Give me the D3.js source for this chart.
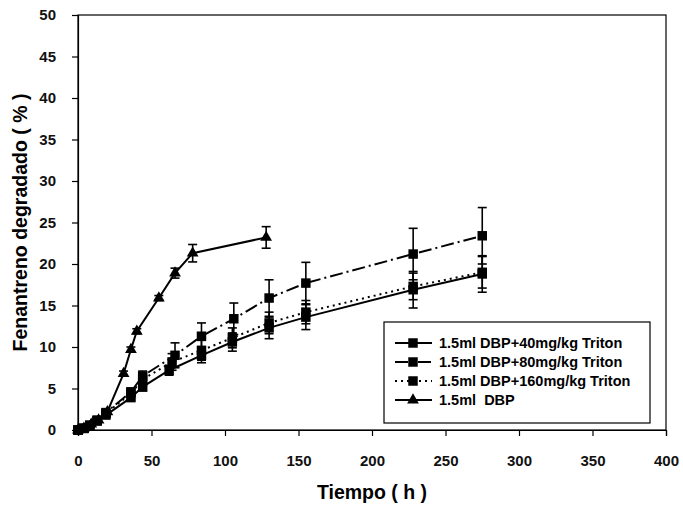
<!DOCTYPE html>
<html>
<head>
<meta charset="utf-8">
<script src="https://cdn.jsdelivr.net/npm/d3@7"></script>
<style>
  body { margin: 0; background: #fff; }
  text { font-family: Arial, "Liberation Sans", sans-serif; }
</style>
</head>
<body>
<svg id="chart" width="683" height="507"></svg>
<script>
// data
var times40 = [0, 4, 8, 13, 19, 36, 44, 62, 84, 105, 130, 155, 228, 275];
var vals40 = [0, 0.2, 0.5, 1.1, 1.8, 3.9, 5.2, 7.2, 9.0, 10.6, 12.3, 13.6, 16.9, 18.8];
var err40 = [0, 0, 0, 0, 0.2, 0.3, 0.5, 0.6, 0.9, 1.1, 1.3, 1.5, 2.2, 2.2];

var times80 = [0, 4, 8, 13, 19, 36, 44, 66, 84, 106, 130, 155, 228, 275];
var vals80 = [0, 0.2, 0.6, 1.2, 2.1, 4.6, 6.5, 9.0, 11.3, 13.4, 15.9, 17.7, 21.2, 23.4];
var err80 = [0, 0, 0, 0, 0.2, 0.4, 0.6, 1.5, 1.6, 1.9, 2.2, 2.5, 3.1, 3.4];

var times160 = [0, 4, 8, 13, 19, 36, 44, 64, 84, 105, 130, 155, 228, 275];
var vals160 = [0, 0.2, 0.5, 1.1, 2.0, 4.4, 6.1, 8.2, 9.6, 11.1, 12.9, 14.2, 17.3, 19.0];
var err160 = [0, 0, 0, 0, 0.2, 0.3, 0.8, 1.0, 1.2, 1.2, 1.3, 1.4, 1.6, 1.9];

var timesDBP = [0, 4, 9, 14, 20, 31, 36, 40, 55, 66, 78, 128];
var valsDBP = [0, 0.2, 0.7, 1.2, 2.2, 6.8, 9.7, 11.9, 15.9, 18.9, 21.3, 23.2];
var errDBP = [0, 0, 0, 0, 0, 0.3, 0.3, 0.3, 0.3, 0.6, 1.05, 1.3];

var xTicks = [0, 50, 100, 150, 200, 250, 300, 350, 400];
var yTicks = [0, 5, 10, 15, 20, 25, 30, 35, 40, 45, 50];

var seriesNames = [
  "1.5ml DBP+40mg/kg Triton",
  "1.5ml DBP+80mg/kg Triton",
  "1.5ml DBP+160mg/kg Triton",
  "1.5ml  DBP",
];

function makeSeries(name, t, v, e, dash, marker) {
  return {
    name: name,
    dash: dash,
    marker: marker,
    points: t.map(function (d, i) {
      return { t: d, v: v[i], e: e[i] };
    }),
  };
}

var series = [
  makeSeries(seriesNames[0], times40, vals40, err40, null, "square"),
  makeSeries(seriesNames[1], times80, vals80, err80, "13,4,2,4", "square"),
  makeSeries(seriesNames[2], times160, vals160, err160, "2,4", "square"),
  makeSeries(seriesNames[3], timesDBP, valsDBP, errDBP, null, "triangle"),
];

var margin = { top: 15, right: 17, bottom: 77, left: 78 },
  width = 683 - margin.left - margin.right,
  height = 507 - margin.top - margin.bottom;

var svg = d3.select("svg#chart");
var g = svg.append("g").attr("transform", "translate(" + margin.left + "," + margin.top + ")");

var x = d3.scaleLinear().domain([0, 400]).range([0, width]);
var y = d3.scaleLinear().domain([0, 50]).range([height, 0]);

// frame
g.append("rect")
  .attr("width", width)
  .attr("height", height)
  .attr("fill", "none")
  .attr("stroke", "#000")
  .attr("stroke-width", 1.2);

// axes
var xAxis = g.append("g")
  .attr("transform", "translate(0," + height + ")")
  .call(d3.axisBottom(x).tickValues(xTicks).tickSize(6).tickPadding(19));
var yAxis = g.append("g")
  .call(d3.axisLeft(y).tickValues(yTicks).tickSize(6).tickPadding(16));

[xAxis, yAxis].forEach(function (a) {
  a.select(".domain").attr("stroke-width", 1.2);
  a.selectAll("line").attr("stroke-width", 1.2);
  a.selectAll("text")
    .attr("font-size", 15)
    .attr("font-weight", "bold")
    .attr("fill", "#111");
});

// axis titles
svg.append("text")
  .attr("x", margin.left + width / 2)
  .attr("y", 499)
  .attr("text-anchor", "middle")
  .attr("font-size", 19.5)
  .attr("font-weight", "bold")
  .text("Tiempo ( h )");

svg.append("text")
  .attr("transform", "translate(27," + (margin.top + height / 2) + ") rotate(-90)")
  .attr("text-anchor", "middle")
  .attr("font-size", 19.5)
  .attr("font-weight", "bold")
  .text("Fenantreno degradado ( % )");

var line = d3.line()
  .x(function (d) { return x(d.t); })
  .y(function (d) { return y(d.v); });

var symSquare = d3.symbol().type(d3.symbolSquare).size(90);
var symTri = d3.symbol().type(d3.symbolTriangle).size(60);

// error bars
series.forEach(function (s) {
  var eb = g.append("g").attr("stroke", "#000").attr("stroke-width", 1.6);
  var pts = s.points.filter(function (d) { return d.e > 0; });
  eb.selectAll(".vbar")
    .data(pts)
    .enter()
    .append("line")
    .attr("x1", function (d) { return x(d.t); })
    .attr("x2", function (d) { return x(d.t); })
    .attr("y1", function (d) { return y(d.v - d.e); })
    .attr("y2", function (d) { return y(d.v + d.e); });
  [1, -1].forEach(function (sign) {
    eb.selectAll(".cap" + sign)
      .data(pts)
      .enter()
      .append("line")
      .attr("x1", function (d) { return x(d.t) - 4.5; })
      .attr("x2", function (d) { return x(d.t) + 4.5; })
      .attr("y1", function (d) { return y(d.v + sign * d.e); })
      .attr("y2", function (d) { return y(d.v + sign * d.e); });
  });
});

// lines
series.forEach(function (s) {
  g.append("path")
    .datum(s.points)
    .attr("d", line)
    .attr("fill", "none")
    .attr("stroke", "#000")
    .attr("stroke-width", 2)
    .attr("stroke-dasharray", s.dash);
});

// markers
series.forEach(function (s) {
  g.selectAll(null)
    .data(s.points)
    .enter()
    .append("path")
    .attr("d", s.marker === "square" ? symSquare : symTri)
    .attr("transform", function (d) {
      return "translate(" + x(d.t) + "," + y(d.v) + ")";
    })
    .attr("fill", "#000");
});

// legend
var leg = svg.append("g").attr("transform", "translate(384,322)");
leg.append("rect")
  .attr("width", 266)
  .attr("height", 101)
  .attr("fill", "#fff")
  .attr("stroke", "#000")
  .attr("stroke-width", 1.2);

series.forEach(function (s, i) {
  var row = leg.append("g").attr("transform", "translate(0," + (21 + i * 19) + ")");
  row.append("line")
    .attr("x1", 11)
    .attr("x2", 48)
    .attr("stroke", "#000")
    .attr("stroke-width", 2)
    .attr("stroke-dasharray", s.dash);
  row.append("path")
    .attr("d", s.marker === "square" ? symSquare : symTri)
    .attr("transform", "translate(29,0)")
    .attr("fill", "#000");
  row.append("text")
    .attr("x", 55)
    .attr("y", 5)
    .attr("font-size", 14.5)
    .attr("font-weight", "bold")
    .attr("xml:space", "preserve")
    .style("white-space", "pre")
    .text(s.name);
});
</script>
</body>
</html>
